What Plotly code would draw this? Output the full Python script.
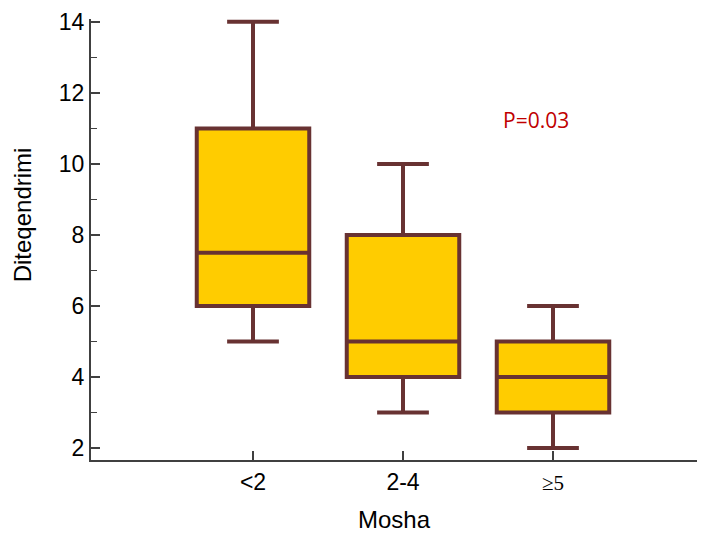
import plotly.graph_objects as go

# Age groups and their box-plot statistics
groups = ["<2", "2-4", "≥5"]
positions = [0, 1, 2]
lower = [5, 3, 2]
q1 = [6, 4, 3]
median = [7.5, 5, 4]
q3 = [11, 8, 5]
upper = [14, 10, 6]

y_ticks = [2, 4, 6, 8, 10, 12, 14]
y_minor = [3, 5, 7, 9, 11, 13]

# the last age group is set in a serif face
tick_text = [
    groups[0],
    groups[1],
    "<span style='font-family:Liberation Serif,Times New Roman,serif;font-size:21px'>"
    + groups[2] + "</span>",
]

fig = go.Figure()
fig.add_trace(go.Box(
    x=positions,
    lowerfence=lower,
    q1=q1,
    median=median,
    q3=q3,
    upperfence=upper,
    width=0.75,
    whiskerwidth=0.46,
    fillcolor="#FFCC00",
    line=dict(color="#683232", width=4),
    boxpoints=False,
    hoverinfo="skip",
))

sans = "Liberation Sans, Arial, sans-serif"
title_font = dict(family=sans, size=24, color="#000000")

fig.update_layout(
    width=706,
    height=535,
    margin=dict(l=91, r=9, t=15, b=75),
    plot_bgcolor="white",
    paper_bgcolor="white",
    showlegend=False,
    xaxis=dict(
        range=[-1.08, 2.96],
        tickvals=positions,
        ticktext=tick_text,
        ticks="inside",
        ticklen=9,
        tickwidth=2,
        tickcolor="#404040",
        showline=True,
        linecolor="#404040",
        linewidth=2,
        showgrid=False,
        zeroline=False,
        tickfont=dict(family=sans, size=23, color="#000000"),
    ),
    yaxis=dict(
        range=[1.665, 14.08],
        tickvals=y_ticks,
        ticks="inside",
        ticklen=9,
        tickwidth=2,
        tickcolor="#404040",
        showline=True,
        linecolor="#404040",
        linewidth=2,
        showgrid=False,
        zeroline=False,
        tickfont=dict(family=sans, size=23, color="#000000"),
        minor=dict(tickvals=y_minor, ticks="inside", ticklen=6,
                   tickwidth=1, tickcolor="#404040"),
    ),
    annotations=[
        dict(
            x=-0.1139, y=0.557, xref="paper", yref="paper",
            text="Diteqendrimi", textangle=-90, showarrow=False,
            font=title_font, xanchor="center", yanchor="middle",
        ),
        dict(
            x=0.5, y=-0.135, xref="paper", yref="paper",
            text="Mosha", showarrow=False,
            font=title_font, xanchor="center", yanchor="middle",
        ),
        dict(
            x=0.734, y=11.24, xref="paper", yref="y",
            text="P=0.03", showarrow=False,
            font=dict(family="Open Sans, Noto Sans, sans-serif", size=21, color="#C00000"),
            xanchor="center", yanchor="middle",
        ),
    ],
)

fig.write_html("out.html")
